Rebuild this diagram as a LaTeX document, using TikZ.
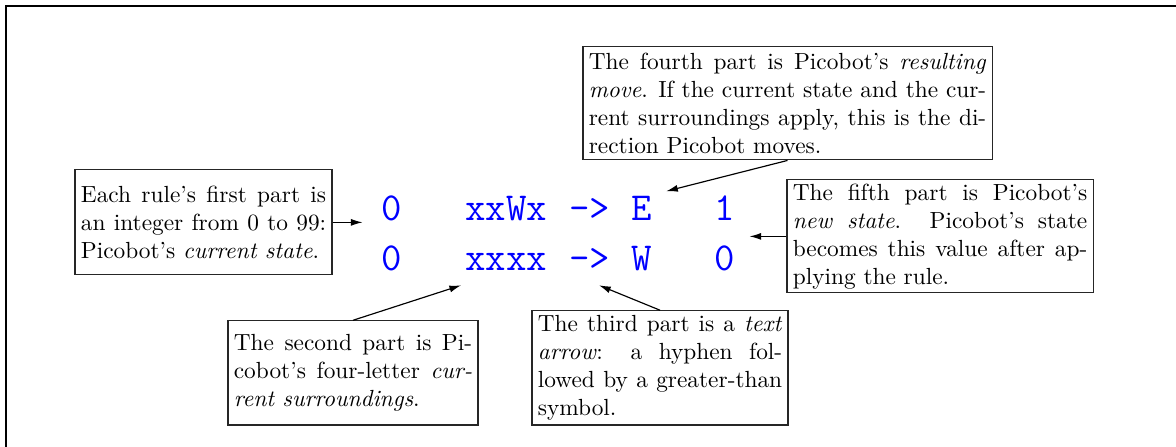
\documentclass[tikz,border=0pt]{standalone}
\usepackage{tikz}
\usetikzlibrary{arrows.meta, positioning}

\begin{document}
\begin{tikzpicture}[
	note/.style={draw=black!85, line width=0.5pt, inner xsep=2.5pt, inner ysep=1.5pt, align=justify},
	code/.style={text=blue, inner sep=6pt, text height=10pt, text depth=0pt, anchor=base, font=\ttfamily\fontsize{17}{20}\selectfont},
	pointer/.style={-{Latex[length=5pt,width=3pt]}, line width=0.5pt}]
	\useasboundingbox (0,0) rectangle (17.71,6.73);
	
	% page frame
	\draw[line width=0.85pt] (0.09,0) -- (0.09,6.64) -- (17.71,6.64);
	
	% the two rules
	\node[code] (s1) at (5.902,3.404) {0};
	\node[code] (c1) at (7.625,3.404) {xxWx};
	\node[code] (a1) at (8.878,3.404) {->};
	\node[code] (m1) at (9.661,3.404) {E};
	\node[code] (n1) at (10.915,3.404) {1};
	
	\node[code] (s2) at (5.902,2.651) {0};
	\node[code] (c2) at (7.625,2.651) {xxxx};
	\node[code] (a2) at (8.878,2.651) {->};
	\node[code] (m2) at (9.661,2.651) {W};
	\node[code] (n2) at (10.915,2.651) {0};
	
	% notes
	\node[note, text width=105.1pt, minimum height=45pt] (first) at (3.065,3.381) {Each rule's first part is\linebreak an integer from 0 to 99:\linebreak Picobot's \emph{current state}.};
	
	\node[note, text width=170.3pt, minimum height=48.4pt] (fourth) at (11.860,5.173) {The fourth part is Picobot's \emph{resulting}\linebreak \emph{move}. If the current state and the cur-\linebreak rent surroundings apply, this is the di-\linebreak rection Picobot moves.};
	
	\node[note, text width=126.2pt, minimum height=48.4pt] (fifth) at (14.157,3.170) {The fifth part is Picobot's\linebreak \emph{new state}. Picobot's state\linebreak becomes this value after ap-\linebreak plying the rule.};
	
	\node[note, text width=102.1pt, minimum height=44.6pt] (second) at (5.316,1.114) {The second part is Pi-\linebreak cobot's four-letter \emph{cur-}\linebreak \emph{rent surroundings}.};
	
	\node[note, text width=104.7pt, minimum height=48.9pt] (third) at (9.940,1.190) {The third part is a \emph{text}\linebreak \emph{arrow}: a hyphen fol-\linebreak lowed by a greater-than\linebreak symbol.};
	
	% pointers
	\draw[pointer, shorten >=2pt] (first.east) -- (first.east -| s1.west);
	\draw[pointer] (fourth.south) -- (m1.36);
	\draw[pointer] (fifth.west) -- (fifth.west -| n1.east);
	\draw[pointer] (second.north) -- (c2.210);
	\draw[pointer] (third.north) -- (a2.-70);
\end{tikzpicture}
\end{document}
